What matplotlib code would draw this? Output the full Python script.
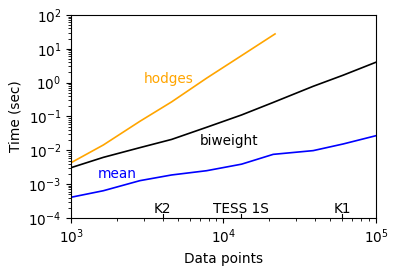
import matplotlib
matplotlib.use("Agg")
import matplotlib.pyplot as plt

# number of data points and timings (sec)
npts = [1000, 1630, 2830, 4570, 7760, 13150, 21200, 38800, 61000, 100000]
t_mean = [4.1e-4, 6.4e-4, 1.27e-3, 1.87e-3, 2.5e-3, 3.9e-3, 7.6e-3, 9.8e-3, 1.54e-2, 2.7e-2]
t_biweight = [3.07e-3, 6.2e-3, 1.2e-2, 2.1e-2, 4.8e-2, 0.111, 0.26, 0.78, 1.66, 4.0]
npts_hodges = [1000, 1630, 2830, 4570, 7760, 13150, 21800]
t_hodges = [4.3e-3, 1.44e-2, 0.072, 0.27, 1.36, 6.3, 27.5]

# typical light curve lengths
missions = ['K2', 'TESS 1S', 'K1']
mission_pts = [3990, 13000, 60000]

plt.rcParams['font.size'] = 9.8

fig = plt.figure(figsize=(3.99, 2.72), dpi=100)
ax = fig.add_axes([0.178, 0.1985, 0.764, 0.7465])

ax.plot(npts_hodges, t_hodges, color='orange', lw=1.2)
ax.plot(npts, t_biweight, color='black', lw=1.2)
ax.plot(npts, t_mean, color='blue', lw=1.2)

ax.text(4375, 1.28, 'hodges', color='orange', ha='center', va='center')
ax.text(10860, 0.0193, 'biweight', color='black', ha='center', va='center')
ax.text(2000, 2.0e-3, 'mean', color='blue', ha='center', va='center')

for name, n in zip(missions, mission_pts):
    ax.plot([n, n], [1e-4, 1.3e-4], color='black', lw=0.8)
    ax.text(n, 1.42e-4, name, ha='center', va='baseline')

ax.set_xscale('log')
ax.set_yscale('log')
ax.set_xlim(1e3, 1e5)
ax.set_ylim(1e-4, 1e2)
ax.set_xlabel('Data points')
ax.set_ylabel('Time (sec)')

fig.savefig('out.png', dpi=100)
